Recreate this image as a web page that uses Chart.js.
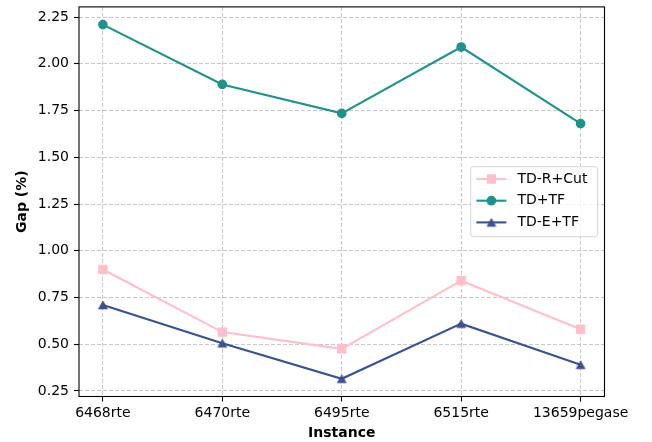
<!DOCTYPE html>
<html>
<head>
<meta charset="utf-8">
<title>Gap by instance</title>
<script src="https://cdn.jsdelivr.net/npm/chart.js@4/dist/chart.umd.min.js"></script>
<style>
  html, body { margin: 0; padding: 0; background: #ffffff; }
  canvas { display: block; }
</style>
</head>
<body>
<canvas id="gapChart" width="652" height="442"></canvas>
<script>
// Instances on the x axis
const categories = ['6468rte', '6470rte', '6495rte', '6515rte', '13659pegase'];

// Gap (%) per method
const tdRCut = [0.90, 0.565, 0.475, 0.84, 0.58];
const tdTF   = [2.21, 1.89, 1.735, 2.09, 1.68];
const tdETF  = [0.71, 0.505, 0.315, 0.61, 0.39];

const seriesLabels = ['TD-R+Cut', 'TD+TF', 'TD-E+TF'];
const yTicks = [0.25, 0.50, 0.75, 1.00, 1.25, 1.50, 1.75, 2.00, 2.25];

const FONT = 'DejaVu Sans';
const COLORS = { pink: '#ffc0cb', teal: '#21918c', navy: '#3b528b' };

// Upward triangle marker centred on its bounding box
function triangleMarker(color) {
  const c = document.createElement('canvas');
  c.width = 14; c.height = 14;
  const g = c.getContext('2d');
  g.fillStyle = color; g.strokeStyle = color; g.lineWidth = 0.8; g.lineJoin = 'miter';
  g.beginPath();
  g.moveTo(7, 7 - 3.9);
  g.lineTo(7 + 4.4, 7 + 3.9);
  g.lineTo(7 - 4.4, 7 + 3.9);
  g.closePath();
  g.fill(); g.stroke();
  return c;
}

const toPoints = arr => arr.map((v, i) => ({ x: i, y: v }));

// Axis limits padded by 5% of the data range
const allValues = tdRCut.concat(tdTF, tdETF);
const dMin = Math.min(...allValues), dMax = Math.max(...allValues);
const yPad = (dMax - dMin) * 0.05;
const xPad = (categories.length - 1) * 0.05;

const datasets = [
  { label: seriesLabels[0], data: toPoints(tdRCut), borderColor: COLORS.pink, backgroundColor: COLORS.pink,
    pointStyle: 'rect', pointRadius: 5.9, pointBorderWidth: 1, order: 2 },
  { label: seriesLabels[1], data: toPoints(tdTF), borderColor: COLORS.teal, backgroundColor: COLORS.teal,
    pointStyle: 'circle', pointRadius: 4.2, pointBorderWidth: 1.3, order: 1 },
  { label: seriesLabels[2], data: toPoints(tdETF), borderColor: COLORS.navy, backgroundColor: COLORS.navy,
    pointStyle: triangleMarker(COLORS.navy), pointRadius: 5, pointBorderWidth: 0, order: 0 }
].map(d => Object.assign({
  borderWidth: 2.1, tension: 0, fill: false,
  pointBackgroundColor: d.backgroundColor, pointBorderColor: d.borderColor,
  pointHoverRadius: d.pointRadius
}, d));

function drawMarker(ctx, ds, x, y) {
  const style = ds.pointStyle;
  ctx.save();
  ctx.fillStyle = ds.pointBackgroundColor;
  ctx.strokeStyle = ds.pointBorderColor;
  ctx.lineWidth = ds.pointBorderWidth;
  if (typeof style === 'object') {
    ctx.drawImage(style, x - style.width / 2, y - style.height / 2);
  } else if (style === 'rect') {
    const s = Math.SQRT1_2 * ds.pointRadius;
    ctx.beginPath(); ctx.rect(x - s, y - s, 2 * s, 2 * s);
    ctx.fill(); if (ds.pointBorderWidth) ctx.stroke();
  } else {
    ctx.beginPath(); ctx.arc(x, y, ds.pointRadius, 0, Math.PI * 2);
    ctx.fill(); if (ds.pointBorderWidth) ctx.stroke();
  }
  ctx.restore();
}

// Full frame around the plotting area plus an in-plot legend (centre right)
const framePlugin = {
  id: 'frameAndLegend',
  afterDatasetsDraw(chart) {
    const { ctx, chartArea: a } = chart;
    ctx.save();
    ctx.strokeStyle = '#000000';
    ctx.lineWidth = 1.1;
    ctx.strokeRect(a.left, a.top, a.right - a.left, a.bottom - a.top);

    const w = 127, h = 70;
    const right = a.right - 6.8;
    const left = right - w;
    const top = (a.top + a.bottom) / 2 - h / 2;
    ctx.beginPath();
    ctx.roundRect(left, top, w, h, 2.8);
    ctx.fillStyle = 'rgba(255,255,255,0.8)';
    ctx.fill();
    ctx.strokeStyle = 'rgba(204,204,204,0.8)';
    ctx.lineWidth = 1;
    ctx.stroke();

    const rowY = [12.3, 34, 55.7];
    chart.data.datasets.forEach((ds, i) => {
      const y = top + rowY[i];
      ctx.beginPath();
      ctx.moveTo(left + 5.7, y);
      ctx.lineTo(left + 35.7, y);
      ctx.strokeStyle = ds.borderColor;
      ctx.lineWidth = ds.borderWidth;
      ctx.stroke();
      drawMarker(ctx, ds, left + 20.7, y);
      ctx.fillStyle = '#000000';
      ctx.font = '14px "' + FONT + '"';
      ctx.textBaseline = 'middle';
      ctx.textAlign = 'left';
      ctx.fillText(ds.label, left + 46.7, y);
    });
    ctx.restore();
  }
};

const tickFont = { family: FONT, size: 14 };
const titleFont = { family: FONT, size: 14, weight: 'bold', lineHeight: 1.2 };
const gridCommon = {
  color: 'rgba(176,176,176,0.7)', lineWidth: 1,
  tickColor: '#000000', tickWidth: 1.1, tickLength: 5, drawTicks: true
};

new Chart(document.getElementById('gapChart'), {
  type: 'line',
  data: { datasets },
  plugins: [framePlugin],
  options: {
    responsive: false,
    animation: false,
    events: [],
    layout: { padding: { top: 5.5, right: 47.5, left: 0, bottom: 0 } },
    plugins: { legend: { display: false }, tooltip: { enabled: false } },
    scales: {
      x: {
        type: 'linear',
        min: -xPad, max: categories.length - 1 + xPad,
        afterBuildTicks: s => { s.ticks = categories.map((_, i) => ({ value: i })); },
        afterFit: s => { s.height = 45.5; s.paddingLeft = 0; s.paddingRight = 0; },
        ticks: { font: tickFont, color: '#000000', padding: 3, maxRotation: 0, autoSkip: false,
                 callback: v => categories[v] },
        grid: gridCommon,
        border: { display: false, dash: [4, 2] },
        title: { display: true, text: 'Instance', font: titleFont, color: '#000000', padding: { top: 0, bottom: 0 } }
      },
      y: {
        type: 'linear',
        min: dMin - yPad, max: dMax + yPad,
        afterBuildTicks: s => { s.ticks = yTicks.map(v => ({ value: v })); },
        afterFit: s => { s.width = 79; s.paddingTop = 0; s.paddingBottom = 0; },
        ticks: { font: tickFont, color: '#000000', padding: 5, callback: v => v.toFixed(2) },
        grid: gridCommon,
        border: { display: false, dash: [4, 2] },
        title: { display: true, text: 'Gap (%)', font: titleFont, color: '#000000', padding: { top: 14, bottom: 0 } }
      }
    }
  }
});
</script>
</body>
</html>
